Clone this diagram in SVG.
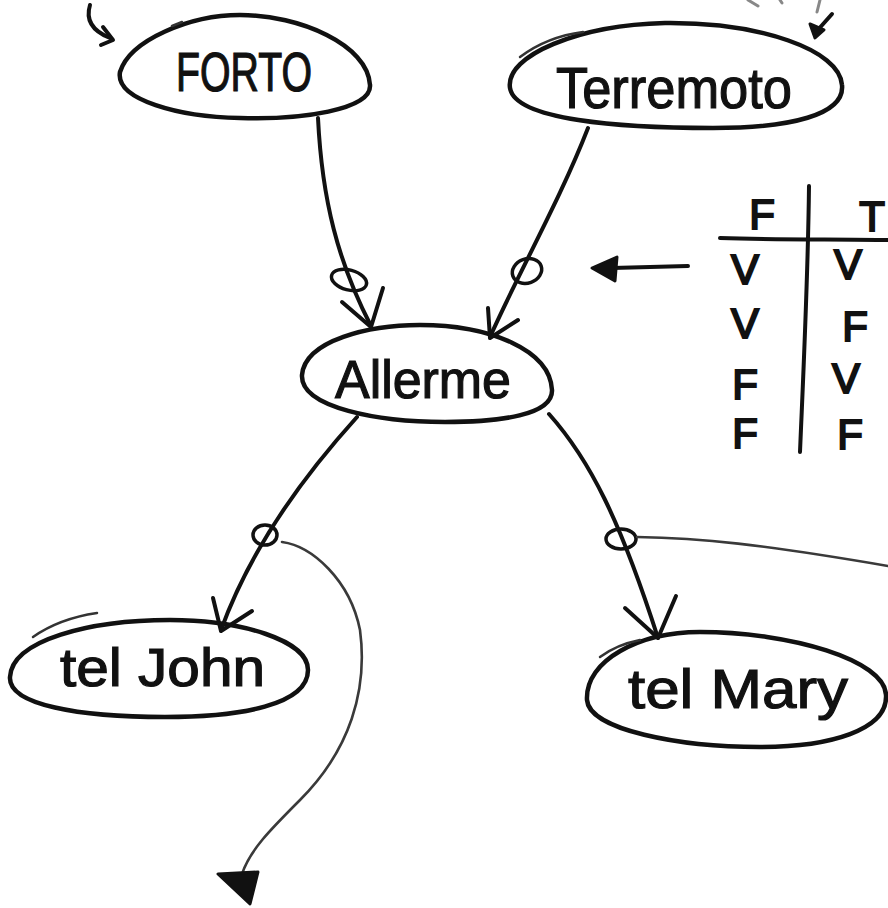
<svg xmlns="http://www.w3.org/2000/svg" width="888" height="908" viewBox="0 0 888 908">
  <style>
    .node { fill: none; stroke: #111; stroke-width: 4.5; stroke-linejoin: round; stroke-linecap: round; }
    .tail { fill: none; stroke: #333; stroke-width: 2.5; stroke-linecap: round; }
    .label { font-family: "Liberation Sans", Arial, sans-serif; fill: #111; stroke: #111; stroke-width: 1.2; }
    .edge { fill: none; stroke: #111; stroke-width: 4; stroke-linecap: round; stroke-linejoin: round; }
    .ring { fill: none; stroke: #111; stroke-width: 3.5; }
    .thin { fill: none; stroke: #3a3a3a; stroke-width: 2.6; stroke-linecap: round; }
    .faint { fill: none; stroke: #888; stroke-width: 3; stroke-linecap: round; }
    .cell { font-family: "Liberation Sans", Arial, sans-serif; fill: #111; stroke: #111; stroke-width: 2; font-size: 42px; text-anchor: middle; }
  </style>

  <rect width="888" height="908" fill="#ffffff"/>

  <!-- marks along the top edge -->
  <g id="top-marks">
    <path class="edge" d="M90,5 C86,18 90,30 110,38" stroke-width="5"/>
    <path class="edge" d="M103,27 L113,40 L101,45" stroke-width="5"/>
    <path class="edge" d="M832,14 L816,32" stroke-width="5"/>
    <path d="M810,24 L824,30 L815,38 Z" fill="#111" stroke="#111" stroke-width="3" stroke-linejoin="round"/>
    <path class="faint" d="M748,0 L758,6"/>
    <path class="faint" d="M780,0 L782,3"/>
    <path class="faint" d="M820,0 L817,12"/>
  </g>

  <g id="forto">
    <path class="node" d="M120,72 C130,40 190,15 240,15 C300,15 368,45 370,85 C372,110 300,120 240,118 C180,117 115,100 120,72 Z"/>
    <path class="tail" d="M172,26 L182,22"/>
    <text class="label" x="176" y="91" font-size="55" textLength="136" lengthAdjust="spacingAndGlyphs">FORTO</text>
  </g>

  <g id="terremoto">
    <path class="node" d="M510,88 C505,55 580,25 665,23 C760,22 840,50 842,85 C845,115 790,128 713,128 C620,128 515,120 510,88 Z"/>
    <path class="tail" d="M520,57 C540,42 560,35 583,32"/>
    <text class="label" x="556" y="108" font-size="58" textLength="236" lengthAdjust="spacingAndGlyphs">Terremoto</text>
  </g>

  <g id="allerme">
    <path class="node" d="M302,375 C305,340 370,325 420,325 C490,325 550,350 552,390 C553,415 500,422 445,422 C380,422 300,408 302,375 Z"/>
    <text class="label" x="335" y="398" font-size="54" textLength="176" lengthAdjust="spacingAndGlyphs">Allerme</text>
  </g>

  <g id="tel-john">
    <path class="node" d="M10,677 C12,640 90,620 170,620 C240,620 308,640 308,670 C308,705 240,717 165,717 C80,717 8,705 10,677 Z"/>
    <path class="tail" d="M33,637 C50,625 70,617 97,613"/>
    <text class="label" x="60" y="686" font-size="54" textLength="205" lengthAdjust="spacingAndGlyphs">tel John</text>
  </g>

  <g id="tel-mary">
    <path class="node" d="M587,700 C585,660 640,632 700,632 C790,632 885,660 886,695 C888,730 830,747 760,747 C680,747 589,730 587,700 Z"/>
    <path class="tail" d="M600,657 C612,648 625,643 640,640"/>
    <text class="label" x="628" y="708" font-size="56" textLength="220" lengthAdjust="spacingAndGlyphs">tel Mary</text>
  </g>

  <!-- truth table for FORTO / Terremoto -->
  <g id="table">
    <path class="edge" d="M809,186 C808,280 803,380 800,452" stroke-width="3"/>
    <path class="edge" d="M720,238 C780,240 840,239 888,240" stroke-width="3.5"/>
    <text class="cell" x="762" y="229">F</text>
    <text class="cell" x="872" y="231">T</text>
    <text class="cell" x="745" y="284">V</text>
    <text class="cell" x="848" y="279">V</text>
    <text class="cell" x="745" y="338">V</text>
    <text class="cell" x="855" y="341">F</text>
    <text class="cell" x="745" y="399">F</text>
    <text class="cell" x="846" y="393">V</text>
    <text class="cell" x="745" y="448">F</text>
    <text class="cell" x="850" y="449">F</text>
    <path class="edge" d="M688,266 L612,268" stroke-width="5"/>
    <path d="M592,268 L617,257 L615,281 Z" fill="#111" stroke="#111" stroke-width="3" stroke-linejoin="round"/>
  </g>

  <g id="connectors">
    <!-- FORTO to Allerme -->
    <path class="edge" d="M318,118 C322,200 338,262 371,326"/>
    <ellipse class="ring" cx="349" cy="280" rx="18" ry="10" transform="rotate(15 349 280)"/>
    <path class="edge" d="M342,302 L371,327 L383,288"/>

    <!-- Terremoto to Allerme -->
    <path class="edge" d="M588,128 C560,200 520,270 490,337"/>
    <ellipse class="ring" cx="527" cy="271" rx="15" ry="12" transform="rotate(-20 527 271)"/>
    <path class="edge" d="M488,308 L490,338 L518,320"/>

    <!-- Allerme to tel John -->
    <path class="edge" d="M357,417 C300,480 250,550 221,630"/>
    <ellipse class="ring" cx="265" cy="535" rx="12" ry="10"/>
    <path class="edge" d="M213,598 L221,631 L252,611"/>

    <!-- Allerme to tel Mary -->
    <path class="edge" d="M549,414 C590,460 620,520 658,638"/>
    <ellipse class="ring" cx="621" cy="539" rx="15" ry="10"/>
    <path class="edge" d="M625,608 L658,638 L676,596"/>

    <!-- curve from the John link down to the bottom -->
    <path class="thin" d="M282,542 C312,546 350,580 360,630 C368,690 350,750 300,800 C270,830 250,850 242,874"/>
    <path d="M218,874 L258,872 L250,904 Z" fill="#111" stroke="#111" stroke-width="3" stroke-linejoin="round"/>

    <!-- curve from the Mary link out to the right -->
    <path class="thin" d="M637,537 C700,538 760,544 888,566"/>
  </g>
</svg>
